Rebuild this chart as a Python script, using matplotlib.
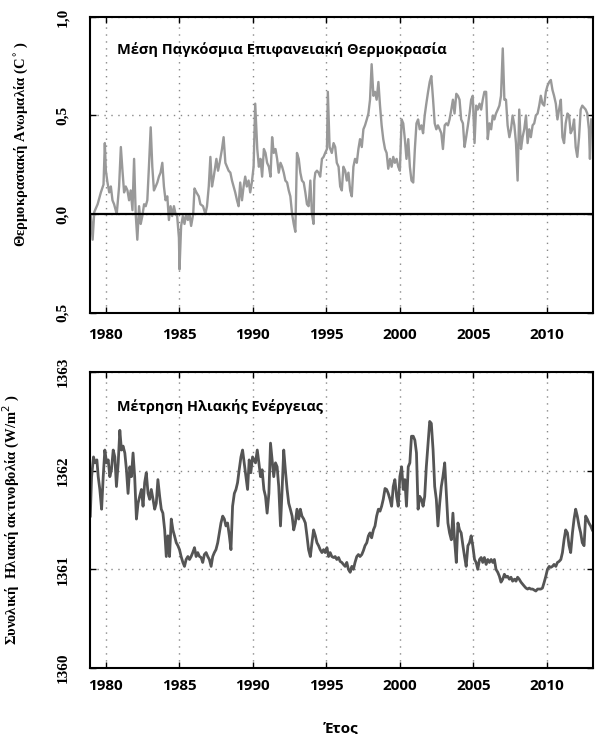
import matplotlib
matplotlib.use("Agg")
import matplotlib.pyplot as plt
from matplotlib.ticker import FixedLocator, FixedFormatter

# global surface temperature anomaly
temp_years = [
    1978.98, 1979.10, 1979.21, 1979.44, 1979.66, 1979.84, 1979.93, 1980.00, 1980.11, 1980.23,
    1980.34, 1980.45, 1980.56, 1980.74, 1980.90, 1981.02, 1981.13, 1981.24, 1981.35, 1981.47,
    1981.58, 1981.69, 1981.81, 1981.92, 1982.03, 1982.14, 1982.26, 1982.37, 1982.48, 1982.60,
    1982.71, 1982.82, 1982.93, 1983.05, 1983.16, 1983.27, 1983.39, 1983.50, 1983.61, 1983.72,
    1983.84, 1983.95, 1984.06, 1984.18, 1984.29, 1984.40, 1984.51, 1984.63, 1984.74, 1984.85,
    1984.97, 1985.01, 1985.12, 1985.24, 1985.35, 1985.46, 1985.58, 1985.69, 1985.80, 1985.94,
    1986.03, 1986.16, 1986.32, 1986.43, 1986.61, 1986.77, 1986.88, 1987.00, 1987.11, 1987.22,
    1987.34, 1987.52, 1987.63, 1987.74, 1987.90, 1988.01, 1988.13, 1988.24, 1988.35, 1988.47,
    1988.58, 1988.69, 1988.80, 1988.92, 1989.03, 1989.14, 1989.26, 1989.37, 1989.48, 1989.59,
    1989.71, 1989.82, 1989.93, 1990.05, 1990.16,
    1990.30, 1990.41, 1990.52, 1990.63, 1990.75, 1990.86, 1990.97, 1991.09, 1991.20, 1991.31,
    1991.42, 1991.54, 1991.65, 1991.76, 1991.88, 1991.99, 1992.10, 1992.21, 1992.33, 1992.44,
    1992.55, 1992.67, 1992.78, 1992.89, 1993.00, 1993.12, 1993.23, 1993.34, 1993.46, 1993.57,
    1993.68, 1993.79, 1993.91, 1994.02, 1994.13, 1994.18, 1994.25, 1994.36, 1994.47, 1994.58,
    1994.70, 1994.81, 1994.92, 1995.04, 1995.10, 1995.22, 1995.37, 1995.49, 1995.60, 1995.71,
    1995.83, 1995.94, 1996.05, 1996.16, 1996.28, 1996.39, 1996.50, 1996.62, 1996.73, 1996.84,
    1996.95, 1997.07, 1997.18, 1997.29, 1997.41, 1997.52, 1997.63, 1997.75, 1997.86, 1997.97,
    1998.08, 1998.20, 1998.31, 1998.42, 1998.54, 1998.65, 1998.76, 1998.87, 1998.99, 1999.10,
    1999.21, 1999.33, 1999.44, 1999.55, 1999.66, 1999.78, 1999.89, 2000.00, 2000.12, 2000.23,
    2000.34, 2000.45, 2000.57, 2000.68, 2000.79, 2000.91, 2001.02, 2001.13, 2001.24,
    2001.35, 2001.47, 2001.58, 2001.69, 2001.80, 2001.92, 2002.03, 2002.14, 2002.26, 2002.37,
    2002.48, 2002.59, 2002.71, 2002.82, 2002.93, 2003.05, 2003.16, 2003.27, 2003.38, 2003.50,
    2003.61, 2003.72, 2003.84, 2003.95, 2004.06, 2004.17, 2004.29, 2004.40, 2004.51, 2004.63,
    2004.74, 2004.85, 2004.96, 2005.08, 2005.19, 2005.30, 2005.42, 2005.53, 2005.64, 2005.75,
    2005.87, 2005.98, 2006.09, 2006.21, 2006.32, 2006.43, 2006.54, 2006.66, 2006.77, 2006.88,
    2007.00, 2007.11, 2007.22, 2007.33, 2007.45, 2007.56, 2007.67, 2007.79, 2007.90, 2008.01,
    2008.12, 2008.24, 2008.35, 2008.46, 2008.58, 2008.69, 2008.80, 2008.91, 2009.03, 2009.14,
    2009.25, 2009.37, 2009.48, 2009.59, 2009.70, 2009.82, 2009.93, 2010.04, 2010.16, 2010.27,
    2010.38, 2010.49, 2010.61, 2010.72, 2010.83, 2010.95, 2011.06, 2011.17, 2011.28, 2011.40,
    2011.51, 2011.62, 2011.74, 2011.85, 2011.96, 2012.07, 2012.19, 2012.30, 2012.41, 2012.53,
    2012.64, 2012.75, 2012.86, 2012.93, 2013.02,
]
temp_anom = [
    -0.01, -0.13, 0.01, 0.05, 0.11, 0.15, 0.36, 0.22, 0.16, 0.11,
    0.14, 0.07, 0.05, 0.00, 0.14, 0.34, 0.22, 0.11, 0.14, 0.12,
    0.07, 0.12, 0.02, 0.28, 0.00, -0.13, 0.04, -0.05, -0.01, 0.05,
    0.04, 0.07, 0.24, 0.44, 0.24, 0.12, 0.14, 0.16, 0.19, 0.21,
    0.26, 0.14, 0.07, 0.09, -0.03, 0.04, -0.01, 0.04, 0.00, -0.01,
    -0.12, -0.28, -0.06, -0.01, -0.05, 0.00, -0.03, 0.00, -0.06, 0.00,
    0.13, 0.11, 0.09, 0.05, 0.04, 0.00, 0.04, 0.14, 0.29, 0.14,
    0.19, 0.28, 0.22, 0.26, 0.33, 0.39, 0.26, 0.24, 0.22, 0.21,
    0.17, 0.14, 0.11, 0.07, 0.04, 0.16, 0.07, 0.14, 0.19, 0.14,
    0.17, 0.11, 0.16, 0.24, 0.56,
    0.33, 0.24, 0.28, 0.19, 0.33, 0.31, 0.26, 0.24, 0.19, 0.39,
    0.31, 0.33, 0.28, 0.21, 0.26, 0.24, 0.21, 0.17, 0.16, 0.12,
    0.09, 0.00, -0.05, -0.09, 0.31, 0.28, 0.21, 0.17, 0.16, 0.11,
    0.05, 0.04, 0.17, 0.00, -0.05, 0.17, 0.21, 0.22, 0.21, 0.19,
    0.28, 0.29, 0.31, 0.33, 0.62, 0.34, 0.31, 0.36, 0.34, 0.26,
    0.24, 0.14, 0.12, 0.24, 0.22, 0.17, 0.21, 0.12, 0.09, 0.24,
    0.28, 0.26, 0.33, 0.38, 0.34, 0.43, 0.45, 0.48, 0.51, 0.58,
    0.76, 0.60, 0.62, 0.58, 0.67, 0.55, 0.45, 0.38, 0.33, 0.31,
    0.23, 0.28, 0.24, 0.29, 0.26, 0.28, 0.24, 0.22, 0.48, 0.46,
    0.38, 0.28, 0.38, 0.24, 0.17, 0.16, 0.33, 0.46, 0.48,
    0.43, 0.45, 0.41, 0.50, 0.56, 0.62, 0.67, 0.70, 0.58, 0.46,
    0.43, 0.45, 0.43, 0.41, 0.33, 0.45, 0.46, 0.45, 0.48, 0.53,
    0.58, 0.51, 0.61, 0.60, 0.58, 0.48, 0.46, 0.34, 0.39, 0.45,
    0.51, 0.58, 0.60, 0.36, 0.55, 0.53, 0.56, 0.53, 0.58, 0.62,
    0.62, 0.38, 0.46, 0.43, 0.50, 0.48, 0.51, 0.53, 0.55, 0.60,
    0.84, 0.58, 0.58, 0.45, 0.39, 0.43, 0.50, 0.45, 0.36, 0.17,
    0.53, 0.33, 0.39, 0.43, 0.50, 0.36, 0.43, 0.39, 0.45, 0.46,
    0.50, 0.51, 0.55, 0.60, 0.56, 0.55, 0.62, 0.65, 0.67, 0.68,
    0.63, 0.60, 0.56, 0.48, 0.53, 0.58, 0.39, 0.36, 0.46, 0.51,
    0.50, 0.41, 0.43, 0.48, 0.34, 0.29, 0.39, 0.53, 0.55, 0.54,
    0.53, 0.51, 0.43, 0.28, 0.48,
]

# total solar irradiance (W/m2)
tsi_years = [
    1978.94, 1979.03, 1979.16, 1979.26, 1979.39, 1979.48, 1979.59, 1979.71, 1979.82, 1979.93,
    1980.05, 1980.16, 1980.27, 1980.38, 1980.50, 1980.61, 1980.72, 1980.84, 1980.95, 1981.06,
    1981.17, 1981.29, 1981.40, 1981.51, 1981.63, 1981.74, 1981.85, 1981.96, 1982.08, 1982.19,
    1982.30, 1982.42, 1982.53, 1982.64, 1982.75, 1982.87, 1982.98, 1983.09, 1983.21, 1983.32,
    1983.43, 1983.54, 1983.66, 1983.77, 1983.88, 1984.00, 1984.11, 1984.22, 1984.33, 1984.45,
    1984.56, 1984.67, 1984.79, 1984.90, 1985.01, 1985.12, 1985.24, 1985.35, 1985.46, 1985.58,
    1985.69, 1985.80, 1985.91, 1986.03, 1986.14, 1986.25, 1986.37, 1986.48, 1986.59, 1986.70,
    1986.82, 1986.93, 1987.04, 1987.16, 1987.27, 1987.38, 1987.49, 1987.61, 1987.72, 1987.83,
    1987.95, 1988.06, 1988.17, 1988.28, 1988.40, 1988.51, 1988.62, 1988.74, 1988.85, 1988.96,
    1989.07, 1989.19, 1989.30, 1989.41, 1989.53, 1989.64, 1989.75, 1989.86, 1989.98,
    1990.18, 1990.30, 1990.41, 1990.52, 1990.63, 1990.75, 1990.86, 1990.97, 1991.09, 1991.20,
    1991.31, 1991.42, 1991.54, 1991.65, 1991.76, 1991.88, 1991.99, 1992.10, 1992.21, 1992.33,
    1992.44, 1992.55, 1992.67, 1992.78, 1992.89, 1993.00, 1993.12, 1993.23, 1993.34, 1993.46,
    1993.57, 1993.68, 1993.79, 1993.91, 1994.02, 1994.13, 1994.25, 1994.36, 1994.47, 1994.58,
    1994.70, 1994.81, 1994.92, 1995.04, 1995.15, 1995.26, 1995.37, 1995.49, 1995.60, 1995.71,
    1995.83, 1995.94, 1996.05, 1996.16, 1996.28, 1996.39, 1996.50, 1996.62, 1996.73, 1996.84,
    1996.95, 1997.07, 1997.18, 1997.29, 1997.41, 1997.52, 1997.63, 1997.75, 1997.86, 1997.97,
    1998.08, 1998.20, 1998.31, 1998.42, 1998.54, 1998.65, 1998.76, 1998.87, 1998.99, 1999.10,
    1999.21, 1999.33, 1999.44, 1999.55, 1999.66, 1999.78, 1999.89, 2000.00, 2000.12, 2000.23,
    2000.34, 2000.45, 2000.57, 2000.68, 2000.79, 2000.91, 2001.02, 2001.13,
    2001.24, 2001.35, 2001.47, 2001.58, 2001.69, 2001.80, 2001.92, 2002.03, 2002.14, 2002.26,
    2002.37, 2002.48, 2002.59, 2002.71, 2002.82, 2002.93, 2003.05, 2003.16, 2003.27, 2003.38,
    2003.50, 2003.61, 2003.72, 2003.84, 2003.95, 2004.06, 2004.17, 2004.29, 2004.40, 2004.51,
    2004.63, 2004.74, 2004.85, 2004.96, 2005.08, 2005.19, 2005.30, 2005.42, 2005.53, 2005.64,
    2005.75, 2005.87, 2005.98, 2006.09, 2006.21, 2006.32, 2006.43, 2006.54, 2006.66, 2006.77,
    2006.88, 2007.00, 2007.11, 2007.22, 2007.33, 2007.45, 2007.56, 2007.67, 2007.79, 2007.90,
    2008.01, 2008.12, 2008.24, 2008.35, 2008.46, 2008.58, 2008.69, 2008.80, 2008.91, 2009.03,
    2009.14, 2009.25, 2009.37, 2009.48, 2009.59, 2009.70, 2009.82, 2009.93, 2010.04, 2010.16,
    2010.27, 2010.38, 2010.49, 2010.61, 2010.72, 2010.83, 2010.95, 2011.06, 2011.17, 2011.28,
    2011.40, 2011.51, 2011.62, 2011.74, 2011.85, 2011.96, 2012.07, 2012.19, 2012.30, 2012.41,
    2012.53, 2012.64, 2012.75, 2012.86, 2012.98, 2013.09,
]
tsi_vals = [
    1361.54, 1361.94, 1362.14, 1362.08, 1362.11, 1361.94, 1361.81, 1361.61, 1361.94, 1362.21,
    1362.08, 1362.11, 1361.94, 1362.01, 1362.21, 1362.14, 1361.84, 1362.08, 1362.41, 1362.21,
    1362.25, 1362.18, 1362.01, 1361.77, 1362.04, 1361.94, 1362.18, 1361.94, 1361.51, 1361.67,
    1361.74, 1361.81, 1361.64, 1361.88, 1361.98, 1361.77, 1361.71, 1361.81, 1361.71, 1361.61,
    1361.67, 1361.91, 1361.74, 1361.61, 1361.57, 1361.40, 1361.13, 1361.34, 1361.13, 1361.51,
    1361.40, 1361.34, 1361.27, 1361.24, 1361.20, 1361.13, 1361.07, 1361.03, 1361.10, 1361.13,
    1361.10, 1361.13, 1361.17, 1361.22, 1361.13, 1361.17, 1361.13, 1361.12, 1361.07, 1361.15,
    1361.17, 1361.13, 1361.10, 1361.03, 1361.13, 1361.17, 1361.20, 1361.27, 1361.37, 1361.47,
    1361.54, 1361.51, 1361.44, 1361.47, 1361.34, 1361.20, 1361.64, 1361.77, 1361.81, 1361.88,
    1362.01, 1362.14, 1362.21, 1362.08, 1361.94, 1361.81, 1362.11, 1361.98, 1362.14,
    1362.08, 1362.21, 1362.08, 1361.94, 1362.01, 1361.81, 1361.74, 1361.57, 1361.77, 1362.28,
    1362.11, 1361.94, 1362.08, 1362.04, 1361.84, 1361.44, 1361.81, 1362.21, 1362.01, 1361.81,
    1361.67, 1361.61, 1361.54, 1361.40, 1361.47, 1361.61, 1361.51, 1361.61, 1361.54, 1361.51,
    1361.47, 1361.34, 1361.20, 1361.13, 1361.27, 1361.40, 1361.34, 1361.27, 1361.24, 1361.20,
    1361.17, 1361.20, 1361.17, 1361.22, 1361.13, 1361.17, 1361.13, 1361.12, 1361.13, 1361.10,
    1361.12, 1361.08, 1361.07, 1361.05, 1361.03, 1361.07, 1361.00, 1360.97, 1361.03, 1361.00,
    1361.07, 1361.13, 1361.15, 1361.13, 1361.15, 1361.19, 1361.24, 1361.27, 1361.34, 1361.37,
    1361.32, 1361.40, 1361.44, 1361.54, 1361.61, 1361.59, 1361.64, 1361.71, 1361.82, 1361.81,
    1361.77, 1361.71, 1361.64, 1361.84, 1361.91, 1361.74, 1361.64, 1361.94, 1362.04, 1361.81,
    1361.91, 1361.64, 1362.04, 1362.08, 1362.35, 1362.35, 1362.31, 1362.18,
    1361.61, 1361.74, 1361.71, 1361.64, 1361.74, 1362.04, 1362.28, 1362.50, 1362.48, 1362.21,
    1361.84, 1361.71, 1361.44, 1361.67, 1361.84, 1361.94, 1362.08, 1361.77, 1361.47, 1361.37,
    1361.30, 1361.57, 1361.30, 1361.07, 1361.47, 1361.40, 1361.37, 1361.24, 1361.13, 1361.03,
    1361.24, 1361.27, 1361.34, 1361.24, 1361.10, 1361.07, 1361.00, 1361.10, 1361.12, 1361.07,
    1361.12, 1361.05, 1361.10, 1361.07, 1361.10, 1361.07, 1361.10, 1361.00, 1360.97, 1360.93,
    1360.87, 1360.90, 1360.95, 1360.92, 1360.93, 1360.90, 1360.92, 1360.88, 1360.90, 1360.88,
    1360.92, 1360.90, 1360.87, 1360.85, 1360.83, 1360.81, 1360.80, 1360.81, 1360.80, 1360.80,
    1360.79, 1360.78, 1360.80, 1360.80, 1360.80, 1360.81, 1360.87, 1360.93, 1361.00, 1361.03,
    1361.02, 1361.03, 1361.05, 1361.03, 1361.07, 1361.08, 1361.10, 1361.17, 1361.30, 1361.40,
    1361.37, 1361.24, 1361.17, 1361.37, 1361.51, 1361.61, 1361.54, 1361.44, 1361.37, 1361.27,
    1361.24, 1361.54, 1361.51, 1361.47, 1361.44, 1361.40,
]

year_ticks = [1980, 1985, 1990, 1995, 2000, 2005, 2010]
temp_ticks = [-0.5, 0.0, 0.5, 1.0]
temp_tick_labels = ["0,5", "0,0", "0,5", "1,0"]
tsi_ticks = [1360, 1361, 1362, 1363]
tsi_tick_labels = ["1360", "1361", "1362", "1363"]

title_top = "Μέση Παγκόσμια Επιφανειακή Θερμοκρασία"
title_bot = "Μέτρηση Ηλιακής Ενέργειας"
ylabel_top = r"Θερμοκρασιακή Ανωμαλία (C$^{\circ}$ )"
ylabel_bot = r"Συνολική  Ηλιακή ακτινοβολία (W/m$^{2}$ )"
xlabel = "Έτος"

serif = ["Liberation Serif", "DejaVu Serif"]
sans = ["Open Sans", "DejaVu Sans"]

fig = plt.figure(figsize=(6.09, 7.34), dpi=100)
ax1 = fig.add_axes([0.148, 0.574, 0.826, 0.403])
ax2 = fig.add_axes([0.148, 0.090, 0.826, 0.403])


def style_axes(ax, yticks, ylabels, ylim, xpad):
    ax.set_xlim(1978.93, 2013.15)
    ax.set_ylim(*ylim)
    ax.xaxis.set_major_locator(FixedLocator(year_ticks))
    ax.yaxis.set_major_locator(FixedLocator(yticks))
    ax.yaxis.set_major_formatter(FixedFormatter(ylabels))
    ax.grid(True, linestyle=(0, (1, 4)), color="#888888", linewidth=1.0)
    ax.tick_params(direction="in", top=True, right=True, length=4, width=1)
    ax.tick_params(axis="x", pad=xpad)
    ax.tick_params(axis="y", pad=15)
    for lab in ax.get_xticklabels():
        lab.set_family(sans)
        lab.set_fontweight("bold")
        lab.set_fontsize(11)
    for lab in ax.get_yticklabels():
        lab.set_family(serif)
        lab.set_fontweight("bold")
        lab.set_fontsize(11)
        lab.set_rotation(90)
        lab.set_va("center")
    for sp in ax.spines.values():
        sp.set_linewidth(1.5)
        sp.set_color("black")


# top panel
ax1.plot(temp_years, temp_anom, color="#999999", linewidth=1.7)
ax1.axhline(0.0, color="black", linewidth=1.6)
style_axes(ax1, temp_ticks, temp_tick_labels, (-0.5, 1.0), 11)
ax1.text(0.054, 0.89, title_top, transform=ax1.transAxes, family=sans,
         fontweight="bold", fontsize=10.5, va="center", ha="left")
ax1.set_ylabel(ylabel_top, family=serif, fontweight="bold", fontsize=10.5)
ax1.yaxis.set_label_coords(-0.12, 0.57)

# bottom panel
ax2.plot(tsi_years, tsi_vals, color="#555555", linewidth=2.0)
style_axes(ax2, tsi_ticks, tsi_tick_labels, (1360, 1363), 8)
ax2.text(0.054, 0.885, title_bot, transform=ax2.transAxes, family=sans,
         fontweight="bold", fontsize=10.4, va="center", ha="left")
ax2.set_ylabel(ylabel_bot, family=serif, fontweight="bold", fontsize=10.5)
ax2.yaxis.set_label_coords(-0.135, 0.5)
ax2.set_xlabel(xlabel, family=sans, fontweight="bold", fontsize=11, labelpad=20)

fig.savefig("out.png", dpi=100)
